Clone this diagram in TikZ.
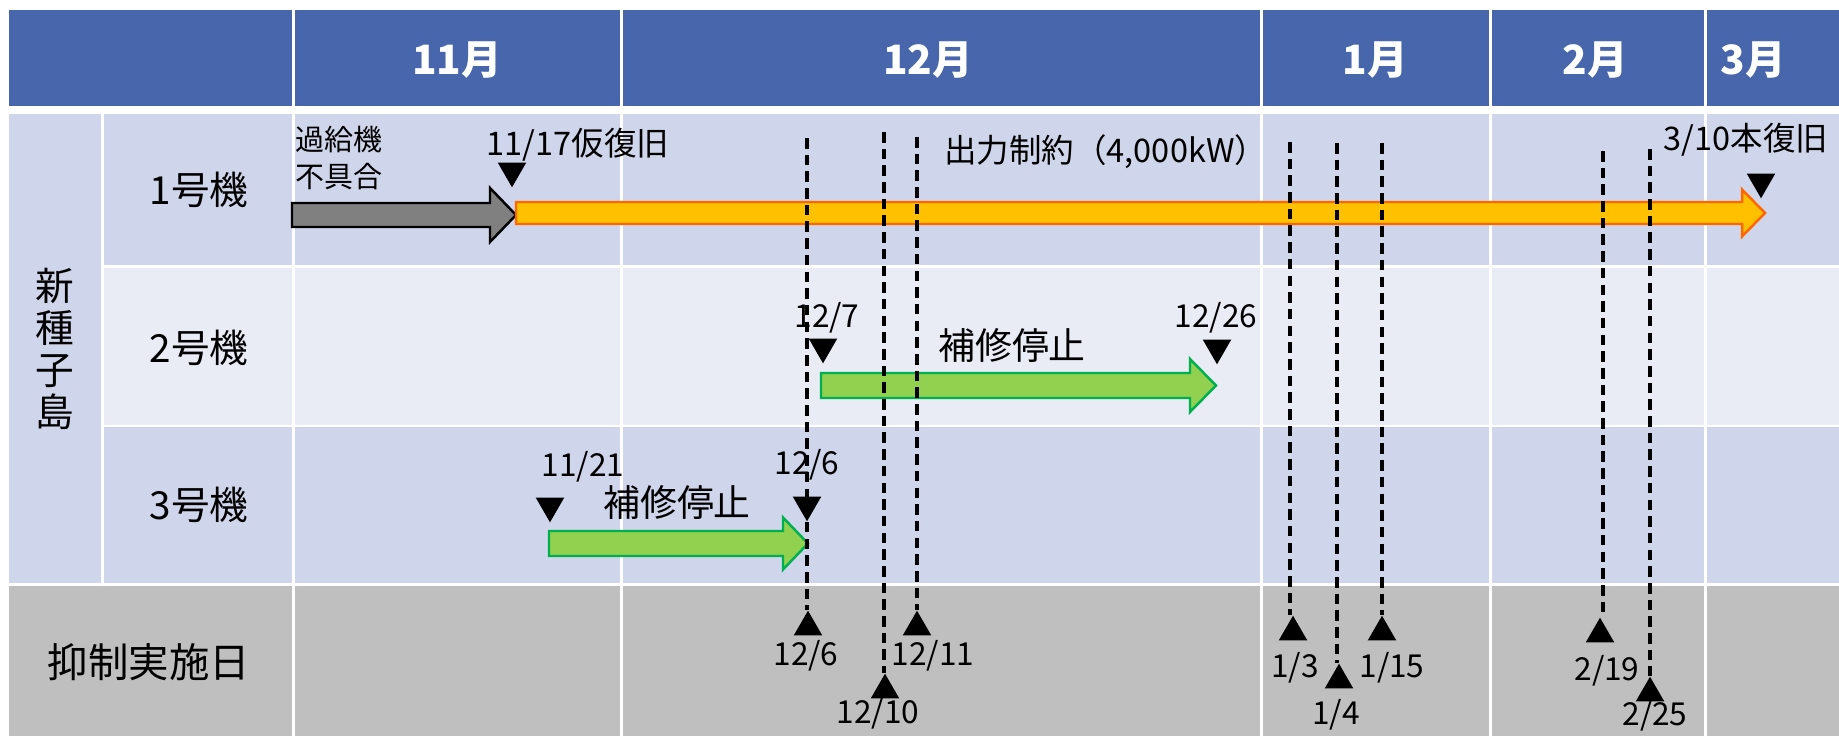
\documentclass[tikz,border=0pt]{standalone}
\usepackage{fontspec}
\setmainfont{Noto Sans CJK JP}
\usetikzlibrary{shapes.geometric,calc,positioning}
\definecolor{hdrBlue}{RGB}{72,102,171}
\definecolor{rowDark}{RGB}{207,213,234}
\definecolor{rowLight}{RGB}{233,235,245}
\definecolor{supGray}{RGB}{191,191,191}
\definecolor{faultGray}{RGB}{128,128,128}
\definecolor{limitFill}{RGB}{255,192,0}
\definecolor{limitLine}{RGB}{255,102,0}
\definecolor{repairFill}{RGB}{146,208,80}
\definecolor{repairLine}{RGB}{0,176,80}
% block arrow: style, tail x, head x, tip x, mid y, half shaft, half head
\newcommand{\blockarrow}[7]{%
  \draw[#1] (#2,#5-#6) -- (#3,#5-#6) -- (#3,#5-#7) -- (#4,#5) -- (#3,#5+#7) -- (#3,#5+#6) -- (#2,#5+#6) -- cycle;}

\begin{document}
\begin{tikzpicture}[x=0.02cm,y=-0.02cm,
    gridline/.style={white,line width=0.06cm},
    monthlbl/.style={text=white,font=\fontsize{23}{27}\selectfont\bfseries},
    unitlbl/.style={font=\fontsize{22}{24}\selectfont,align=center},
    notelbl/.style={font=\fontsize{18.5}{21}\selectfont,inner sep=0},
    worklbl/.style={font=\fontsize{21}{24}\selectfont,inner sep=0},
    datelbl/.style={font=\fontsize{18}{21}\selectfont,inner sep=0},
    tridown/.style={regular polygon,regular polygon sides=3,shape border rotate=180,fill=black,inner sep=0,minimum size=0.66cm,anchor=corner 1},
    triup/.style={regular polygon,regular polygon sides=3,fill=black,inner sep=0,minimum size=0.66cm,anchor=corner 1},
    dashline/.style={black,line width=1.8pt,dash pattern=on 6pt off 3.5pt},
    fault/.style={fill=faultGray,draw=black,line width=1.4pt},
    limit/.style={fill=limitFill,draw=limitLine,line width=1.4pt},
    repair/.style={fill=repairFill,draw=repairLine,line width=1.4pt},
    ]
  \useasboundingbox (0,0) rectangle (1839,736);

  % table
  \fill[hdrBlue] (9,10) rectangle (1839,106);
  \fill[rowDark] (9,114) rectangle (1839,267);
  \fill[rowLight] (102,267) rectangle (1839,426);
  \fill[rowDark] (9,267) rectangle (102,426);
  \fill[rowDark] (9,426) rectangle (1839,584);
  \fill[supGray] (9,584) rectangle (1839,736);
  \draw[gridline] (102,114) -- (102,584);
  \draw[gridline] (102,267) -- (1839,267);
  \draw[gridline] (102,426) -- (1839,426);
  \draw[gridline] (9,584) -- (1839,584);
  \foreach \x in {293,621,1261,1490,1705}
    \draw[gridline] (\x,10) -- (\x,736);

  \node[monthlbl] (hdrNov) at (457,60) {11月};
  \node[monthlbl] (hdrDec) at (928,60) {12月};
  \node[monthlbl] (hdrJan) at (1375,60) {1月};
  \node[monthlbl] (hdrFeb) at (1595,60) {2月};
  \node[monthlbl] (hdrMar) at (1753,60) {3月};

  \node[unitlbl] (island) at (55,349) {新\\種\\子\\島};
  \node[unitlbl] (unit1) at (199,190) {1号機};
  \node[unitlbl] (unit2) at (199,348) {2号機};
  \node[unitlbl] (unit3) at (199,505) {3号機};
  \node[unitlbl,font=\fontsize{23}{25}\selectfont] (supDays) at (149,662) {抑制実施日};

  % bars
  \blockarrow{fault}{292}{490}{516}{215}{12}{27}
  \blockarrow{limit}{516}{1742}{1765}{213}{11}{23.5}
  \blockarrow{repair}{821}{1190}{1216}{385.5}{12.5}{26.5}
  \blockarrow{repair}{549}{783}{808}{543.5}{12.5}{26}

  % unit 1
  \node[notelbl,anchor=west,align=left,font=\fontsize{16.5}{21}\selectfont] (cause) at (295,158) {過給機\\不具合};
  \node[tridown] (t1117) at (512,188) {};
  \node[notelbl] (lbl1117) at (578,145) {11/17仮復旧};
  \node[notelbl,anchor=west] (lblLimit) at (944,152) {出力制約（4,000kW）};
  \node[tridown] (t0310) at (1761,199) {};
  \node[notelbl] (lbl0310) at (1746,140) {3/10本復旧};

  % unit 2
  \node[tridown] (t1207) at (823,364) {};
  \node[datelbl] (lbl1207) at (827,318) {12/7};
  \node[tridown] (t1226) at (1217,365) {};
  \node[datelbl] (lbl1226) at (1216,318) {12/26};
  \node[worklbl] (work2) at (1012,345) {補修停止};

  % unit 3
  \node[tridown] (t1121) at (550,523) {};
  \node[datelbl] (lbl1121) at (583,467) {11/21};
  \node[tridown] (t1206) at (807,522) {};
  \node[datelbl] (lbl1206) at (807,465) {12/6};
  \node[worklbl] (work3) at (677,502) {補修停止};

  % suppression days
  \node[triup] (s1206) at (808,610) {};
  \node[triup] (s1210) at (885,673) {};
  \node[triup] (s1211) at (917,610) {};
  \node[triup] (s0103) at (1293,615) {};
  \node[triup] (s0104) at (1339,663) {};
  \node[triup] (s0115) at (1382,615) {};
  \node[triup] (s0219) at (1600,617) {};
  \node[triup] (s0225) at (1650,676) {};
  \node[datelbl] (ls1206) at (806,656) {12/6};
  \node[datelbl] (ls1210) at (878,714) {12/10};
  \node[datelbl] (ls1211) at (933,656) {12/11};
  \node[datelbl] (ls0103) at (1295,668) {1/3};
  \node[datelbl] (ls0104) at (1336,715) {1/4};
  \node[datelbl] (ls0115) at (1392,668) {1/15};
  \node[datelbl] (ls0219) at (1607,671) {2/19};
  \node[datelbl] (ls0225) at (1655,716) {2/25};

  \coordinate (d1206) at (807,138);
  \coordinate (d1210) at (884,132);
  \coordinate (d1211) at (917,137);
  \coordinate (d0103) at (1290,142);
  \coordinate (d0104) at (1337,143);
  \coordinate (d0115) at (1382,143);
  \coordinate (d0219) at (1603,151);
  \coordinate (d0225) at (1650,149);
  \draw[dashline] (d1206) -- (d1206 |- s1206.corner 1);
  \draw[dashline] (d1210) -- (d1210 |- s1210.corner 1);
  \draw[dashline] (d1211) -- (d1211 |- s1211.corner 1);
  \draw[dashline] (d0103) -- (d0103 |- s0103.corner 1);
  \draw[dashline] (d0104) -- (d0104 |- s0104.corner 1);
  \draw[dashline] (d0115) -- (d0115 |- s0115.corner 1);
  \draw[dashline] (d0219) -- (d0219 |- s0219.corner 1);
  \draw[dashline] (d0225) -- (d0225 |- s0225.corner 1);
\end{tikzpicture}
\end{document}
